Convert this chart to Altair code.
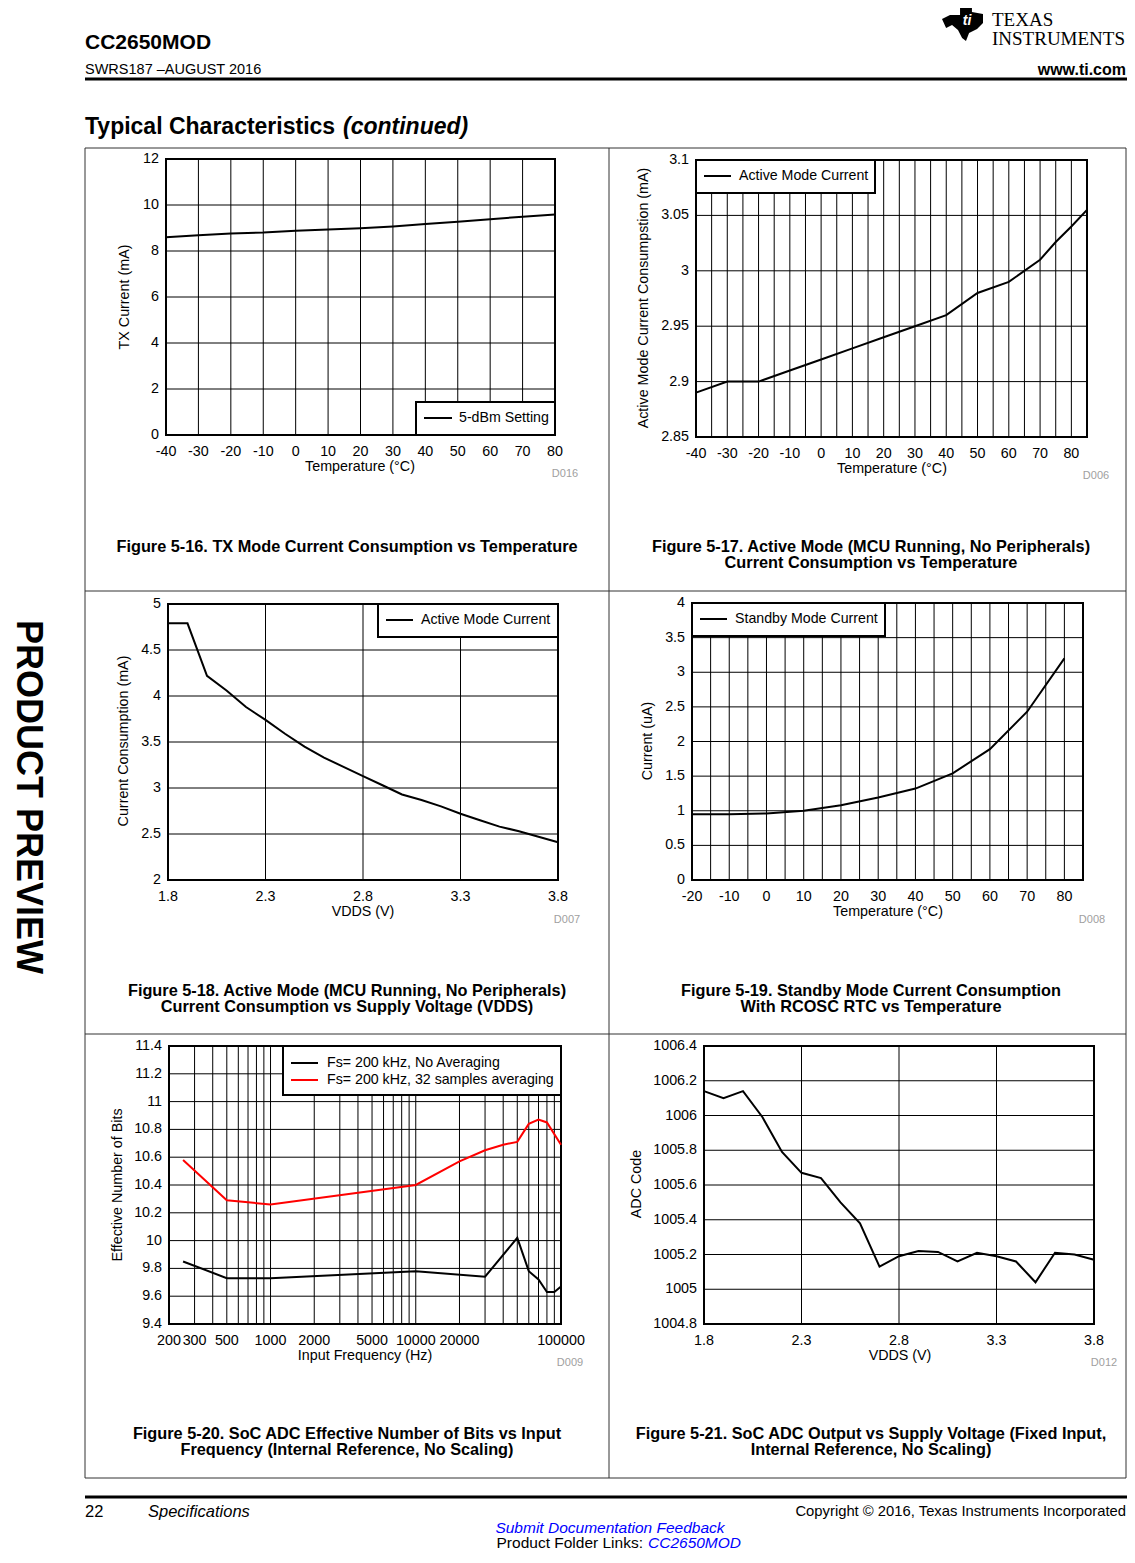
import altair as alt
import pandas as pd

OX, OY = 8, 8          # page margin: chart origin on the page
W, H = 1119, 1542      # chart size (fits in the 1135x1563 window)
F = "Liberation Sans"

# ---------------- data ----------------
p1_temp = [-40, -30, -20, -10, 0, 10, 20, 30, 40, 50, 60, 70, 80]
p1_tx = [8.60, 8.68, 8.76, 8.80, 8.88, 8.93, 8.99, 9.07, 9.17, 9.27, 9.38, 9.49, 9.59]

p2_temp = [-40, -30, -20, -10, 0, 10, 20, 30, 40, 50, 60, 70, 75, 80, 85]
p2_cur = [2.890, 2.900, 2.900, 2.910, 2.920, 2.930, 2.940, 2.950, 2.960, 2.980, 2.990, 3.010, 3.026, 3.040, 3.055]

p3_vdds = [1.8, 1.9, 2.0, 2.1, 2.2, 2.3, 2.4, 2.5, 2.6, 2.7, 2.8, 2.9, 3.0, 3.1, 3.2, 3.3, 3.4, 3.5, 3.6, 3.7, 3.8]
p3_cur = [4.79, 4.79, 4.22, 4.06, 3.88, 3.74, 3.59, 3.45, 3.33, 3.23, 3.13, 3.03, 2.93, 2.87, 2.80, 2.72, 2.65, 2.58, 2.53, 2.47, 2.41]

p4_temp = [-20, -10, 0, 10, 20, 30, 40, 50, 60, 70, 80]
p4_cur = [0.95, 0.95, 0.96, 1.00, 1.08, 1.19, 1.32, 1.54, 1.89, 2.43, 3.20]

p5_freq_noavg = [250, 500, 1000, 10000, 30000, 50000, 60000, 70000, 80000, 90000, 100000]
p5_enob_noavg = [9.85, 9.73, 9.73, 9.78, 9.74, 10.02, 9.78, 9.72, 9.63, 9.63, 9.67]
p5_freq_avg = [250, 500, 1000, 10000, 20000, 30000, 40000, 50000, 60000, 70000, 80000, 100000]
p5_enob_avg = [10.58, 10.29, 10.26, 10.40, 10.57, 10.65, 10.69, 10.71, 10.84, 10.87, 10.85, 10.69]

p6_vdds = [1.8, 1.9, 2.0, 2.1, 2.2, 2.3, 2.4, 2.5, 2.6, 2.7, 2.8, 2.9, 3.0, 3.1, 3.2, 3.3, 3.4, 3.5, 3.6, 3.7, 3.8]
p6_code = [1006.14, 1006.10, 1006.14, 1005.99, 1005.79, 1005.67, 1005.64, 1005.50, 1005.38, 1005.13, 1005.19,
           1005.22, 1005.215, 1005.16, 1005.21, 1005.19, 1005.16, 1005.04, 1005.21, 1005.20, 1005.17]

# tick labels / grid values
p1_xticks = [-40, -30, -20, -10, 0, 10, 20, 30, 40, 50, 60, 70, 80]
p1_yticks = [0, 2, 4, 6, 8, 10, 12]
p2_xticks = [-40, -30, -20, -10, 0, 10, 20, 30, 40, 50, 60, 70, 80]
p2_xgrid = [-40, -35, -30, -25, -20, -15, -10, -5, 0, 5, 10, 15, 20, 25, 30, 35, 40, 45, 50, 55, 60, 65, 70, 75, 80, 85]
p2_yticks = [2.85, 2.9, 2.95, 3.0, 3.05, 3.1]
p3_xticks = [1.8, 2.3, 2.8, 3.3, 3.8]
p3_yticks = [2.0, 2.5, 3.0, 3.5, 4.0, 4.5, 5.0]
p4_xticks = [-20, -10, 0, 10, 20, 30, 40, 50, 60, 70, 80]
p4_xgrid = [-20, -15, -10, -5, 0, 5, 10, 15, 20, 25, 30, 35, 40, 45, 50, 55, 60, 65, 70, 75, 80, 85]
p4_yticks = [0.0, 0.5, 1.0, 1.5, 2.0, 2.5, 3.0, 3.5, 4.0]
p5_xticks = [200, 300, 500, 1000, 2000, 5000, 10000, 20000, 100000]
p5_xgrid = [200, 300, 400, 500, 600, 700, 800, 900, 1000, 2000, 3000, 4000, 5000, 6000, 7000, 8000, 9000,
            10000, 20000, 30000, 40000, 50000, 60000, 70000, 80000, 90000, 100000]
p5_yticks = [9.4, 9.6, 9.8, 10.0, 10.2, 10.4, 10.6, 10.8, 11.0, 11.2, 11.4]
p6_xticks = [1.8, 2.3, 2.8, 3.3, 3.8]
p6_yticks = [1004.8, 1005.0, 1005.2, 1005.4, 1005.6, 1005.8, 1006.0, 1006.2, 1006.4]

# TI logo outline (unit square, custom symbol path)
TI_PATH = ("M -0.12 -0.98 L 0.46 -0.98 L 0.46 -0.44 L 1 -0.34 L 1 0.1 L 0.71 0.39 L 0.32 0.59 "
           "L 0.17 0.98 L -0.02 0.83 L -0.22 0.44 L -0.51 0.2 L -0.8 0.34 L -1 -0.1 L -0.61 -0.29 "
           "L -0.12 -0.29 Z")

LBL = 14.3


def fmt(v, kind):
    """Tick label text as printed in the datasheet (plain hyphen for negatives)."""
    if kind == "d":
        return str(int(round(v)))
    if kind == "1f":
        return f"{v:.1f}"
    return f"{v:g}"


# ---------------- helpers ----------------
def texts(rows, size, weight="normal", style="normal", color="black", align="left",
          angle=0, baseline="middle", font=F):
    df = pd.DataFrame(rows, columns=["t", "x", "y"])
    df["x"] = df["x"] - OX
    df["y"] = df["y"] - OY
    return alt.Chart(df).mark_text(
        fontSize=size, fontWeight=weight, fontStyle=style, color=color, align=align,
        angle=angle, baseline=baseline, font=font
    ).encode(x=alt.X("x:Q", scale=None), y=alt.Y("y:Q", scale=None), text="t:N")


def rules(rows, width, color="black"):
    df = pd.DataFrame(rows, columns=["x", "y", "x2", "y2"])
    for c in ["x", "x2"]:
        df[c] = df[c] - OX
    for c in ["y", "y2"]:
        df[c] = df[c] - OY
    return alt.Chart(df).mark_rule(color=color, strokeWidth=width).encode(
        x=alt.X("x:Q", scale=None), y=alt.Y("y:Q", scale=None), x2="x2:Q", y2="y2:Q")


def box(x0, y0, x1, y1):
    df = pd.DataFrame({"x": [x0 - OX], "y": [y0 - OY], "x2": [x1 - OX], "y2": [y1 - OY]})
    return alt.Chart(df).mark_rect(fill="white", stroke="black", strokeWidth=2).encode(
        x=alt.X("x:Q", scale=None), y=alt.Y("y:Q", scale=None), x2="x2:Q", y2="y2:Q")


def plot(px0, px1, py0, py1, xdom, ydom, xgrid, ygrid, xticks, yticks, series,
         xfmt, yfmt, xlog=False):
    xs = alt.Scale(type="log" if xlog else "linear", domain=xdom,
                   range=[px0 - OX, px1 - OX], nice=False, zero=False)
    ys = alt.Scale(domain=ydom, range=[py1 - OY, py0 - OY], nice=False, zero=False)
    gx = pd.DataFrame({"g": xgrid, "lo": ydom[0], "hi": ydom[1]})
    gy = pd.DataFrame({"g": ygrid, "lo": xdom[0], "hi": xdom[1]})
    layers = [
        alt.Chart(gx).mark_rule(color="black", strokeWidth=1).encode(
            x=alt.X("g:Q", scale=xs, axis=None),
            y=alt.Y("lo:Q", scale=ys, axis=None), y2="hi:Q"),
        alt.Chart(gy).mark_rule(color="black", strokeWidth=1).encode(
            y=alt.Y("g:Q", scale=ys, axis=None),
            x=alt.X("lo:Q", scale=xs, axis=None), x2="hi:Q"),
    ]
    fr = pd.DataFrame({"x": [xdom[0]], "x2": [xdom[1]], "y": [ydom[0]], "y2": [ydom[1]]})
    layers.append(alt.Chart(fr).mark_rect(fillOpacity=0, stroke="black", strokeWidth=2).encode(
        x=alt.X("x:Q", scale=xs, axis=None), x2="x2:Q",
        y=alt.Y("y:Q", scale=ys, axis=None), y2="y2:Q"))
    # tick labels, placed through the scales
    xl = pd.DataFrame({"v": xticks, "lab": [fmt(v, xfmt) for v in xticks]})
    yl = pd.DataFrame({"v": yticks, "lab": [fmt(v, yfmt) for v in yticks]})
    layers.append(alt.Chart(xl).mark_text(
        fontSize=LBL, font=F, color="black", align="center", baseline="middle").encode(
        x=alt.X("v:Q", scale=xs, axis=None), y=alt.value(py1 + 16.5 - OY), text="lab:N"))
    layers.append(alt.Chart(yl).mark_text(
        fontSize=LBL, font=F, color="black", align="right", baseline="middle").encode(
        y=alt.Y("v:Q", scale=ys, axis=None), x=alt.value(px0 - 7 - OX), text="lab:N"))
    for xv, yv, col in series:
        df = pd.DataFrame({"x": xv, "y": yv})
        layers.append(alt.Chart(df).mark_line(color=col, strokeWidth=2).encode(
            x=alt.X("x:Q", scale=xs, axis=None),
            y=alt.Y("y:Q", scale=ys, axis=None)))
    return alt.layer(*layers)


# ---------------- plots ----------------
plots = [
    plot(166, 555, 159, 435, [-40, 80], [0, 12], p1_xticks, p1_yticks, p1_xticks, p1_yticks,
         [(p1_temp, p1_tx, "black")], "d", "d"),
    plot(696, 1087, 160, 437, [-40, 85], [2.85, 3.1], p2_xgrid, p2_yticks, p2_xticks, p2_yticks,
         [(p2_temp, p2_cur, "black")], "d", "g"),
    plot(168, 558, 604, 880, [1.8, 3.8], [2, 5], p3_xticks, p3_yticks, p3_xticks, p3_yticks,
         [(p3_vdds, p3_cur, "black")], "1f", "g"),
    plot(692, 1083, 603, 880, [-20, 85], [0, 4], p4_xgrid, p4_yticks, p4_xticks, p4_yticks,
         [(p4_temp, p4_cur, "black")], "d", "g"),
    plot(169, 561, 1046, 1324, [200, 100000], [9.4, 11.4], p5_xgrid, p5_yticks, p5_xticks, p5_yticks,
         [(p5_freq_noavg, p5_enob_noavg, "black"), (p5_freq_avg, p5_enob_avg, "#ff0000")],
         "d", "g", xlog=True),
    plot(704, 1094, 1046, 1324, [1.8, 3.8], [1004.8, 1006.4], p6_xticks, p6_yticks, p6_xticks, p6_yticks,
         [(p6_vdds, p6_code, "black")], "1f", "g"),
]

# ---------------- legends ----------------
legends = [
    box(416, 402, 555, 435), box(696, 160, 875, 193), box(378, 604, 558, 637),
    box(692, 603, 885, 636), box(283, 1046, 561, 1095),
    rules([(424, 418, 452, 418), (704, 176, 731, 176), (386, 620, 413, 620),
           (700, 619, 727, 619), (291, 1063, 318, 1063)], 2),
    rules([(291, 1080, 318, 1080)], 2, color="#ff0000"),
    texts([("5-dBm Setting", 459, 418), ("Active Mode Current", 739, 176),
           ("Active Mode Current", 421, 620), ("Standby Mode Current", 735, 619),
           ("Fs= 200 kHz, No Averaging", 327, 1063),
           ("Fs= 200 kHz, 32 samples averaging", 327, 1080)], 14.2),
]

# ---------------- axis titles, codes, captions ----------------
xtitles = texts([("Temperature (°C)", 360, 467), ("Temperature (°C)", 892, 469),
                 ("VDDS (V)", 363, 912), ("Temperature (°C)", 888, 912),
                 ("Input Frequency (Hz)", 365, 1356), ("VDDS (V)", 900, 1356)], 14.3, align="center")
ytitles = texts([("TX Current (mA)", 125, 297), ("Active Mode Current Consumpstion (mA)", 644, 298),
                 ("Current Consumption (mA)", 124, 741), ("Current (uA)", 648, 741),
                 ("Effective Number of Bits", 118, 1185), ("ADC Code", 637, 1184)],
                14.3, align="center", angle=270)
codes = texts([("D016", 565, 474), ("D006", 1096, 476), ("D007", 567, 920),
               ("D008", 1092, 920), ("D009", 570, 1363), ("D012", 1104, 1363)],
              11, color="#a0a0a0", align="center")
captions = texts([
    ("Figure 5-16. TX Mode Current Consumption vs Temperature", 347, 547),
    ("Figure 5-17. Active Mode (MCU Running, No Peripherals)", 871, 547),
    ("Current Consumption vs Temperature", 871, 563),
    ("Figure 5-18. Active Mode (MCU Running, No Peripherals)", 347, 991),
    ("Current Consumption vs Supply Voltage (VDDS)", 347, 1007),
    ("Figure 5-19. Standby Mode Current Consumption", 871, 991),
    ("With RCOSC RTC vs Temperature", 871, 1007),
    ("Figure 5-20. SoC ADC Effective Number of Bits vs Input", 347, 1434),
    ("Frequency (Internal Reference, No Scaling)", 347, 1450),
    ("Figure 5-21. SoC ADC Output vs Supply Voltage (Fixed Input,", 871, 1434),
    ("Internal Reference, No Scaling)", 871, 1450),
], 16.3, weight="bold", align="center")

# ---------------- page decorations ----------------
RX = 1126   # right edge of the page content that fits in the window
frame = rules([(85, 148, RX, 148), (85, 591, RX, 591), (85, 1034, RX, 1034),
               (85, 1478, RX, 1478), (85, 148, 85, 1478), (609, 148, 609, 1478),
               (RX, 148, RX, 1478)], 1, color="#333333")
thick = rules([(85, 79, RX + 1, 79), (85, 1497, RX + 1, 1497)], 3)
logo_df = pd.DataFrame({"x": [962.5 - OX], "y": [21 - OY]})
logo = alt.Chart(logo_df).mark_point(shape=TI_PATH, size=1681, filled=True, color="black",
                                     opacity=1).encode(
    x=alt.X("x:Q", scale=None), y=alt.Y("y:Q", scale=None))
page = [
    logo,
    texts([("ti", 967, 21)], 14, weight="bold", style="italic", color="white", align="center"),
    texts([("CC2650MOD", 85, 43)], 21, weight="bold"),
    texts([("SWRS187 –AUGUST 2016", 85, 70)], 14.5),
    texts([("www.ti.com", RX, 70)], 16, weight="bold", align="right"),
    texts([("TEXAS", 992, 26), ("INSTRUMENTS", 992, 45)], 19, font="Liberation Serif",
          baseline="alphabetic"),
    texts([("Typical Characteristics", 85, 127)], 23, weight="bold"),
    texts([("(continued)", 343, 127)], 23, weight="bold", style="italic"),
    texts([("22", 85, 1512)], 16.5),
    texts([("Specifications", 148, 1512)], 16.5, style="italic"),
    texts([("Copyright © 2016, Texas Instruments Incorporated", RX, 1512)], 14.8, align="right"),
    texts([("Submit Documentation Feedback", 610, 1528)], 15.5, style="italic", color="#0000ff",
          align="center"),
    texts([("Product Folder Links:", 643, 1543)], 15.5, align="right"),
    texts([("CC2650MOD", 648, 1543)], 15.5, style="italic", color="#0000ff"),
    texts([("PRODUCT PREVIEW", 9, 797)], 36, weight="bold", align="center", angle=90,
          baseline="bottom"),
]

chart = alt.layer(
    *plots, *legends, xtitles, ytitles, codes, captions, frame, thick, *page
).resolve_scale(x="independent", y="independent").properties(
    width=W, height=H, autosize=alt.AutoSizeParams(type="none"), padding=0
).configure_view(strokeWidth=0)

chart.save("out.html", embed_options={"renderer": "svg", "actions": False})
